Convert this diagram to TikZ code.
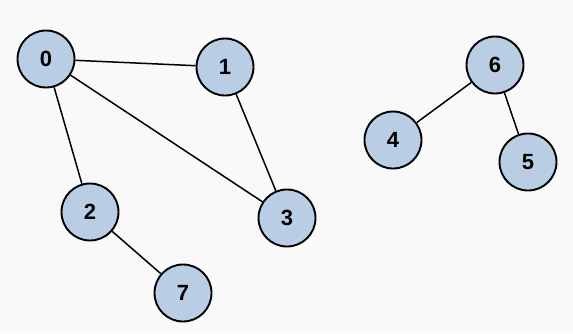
\documentclass[tikz,border=0pt]{standalone}
\usepackage{fontspec}
\setsansfont{Liberation Sans}
\usepackage{tikz}
\usetikzlibrary{positioning}
\definecolor{vertexFill}{HTML}{B9CDE5}
\definecolor{bgPaper}   {HTML}{F9F9F9}
\tikzset{
  vertex/.style={circle, draw=black, line width=1.9pt, fill=vertexFill,
                 minimum size=57pt, inner sep=0pt,
                 font=\sffamily\bfseries\fontsize{22}{24}\selectfont},
  edge/.style={line width=1.5pt},
}

\begin{document}
\begin{tikzpicture}[x=1pt, y=-1pt]
        \fill[bgPaper] (0,0) rectangle (573,333);
        \useasboundingbox (0,0) rectangle (573,333);
        % first component
        \node[vertex] (v0) at (46, 59) {0};
        \node[vertex] (v1) at (225, 67) {1};
        \node[vertex] (v2) at (90, 212) {2};
        \node[vertex] (v3) at (287, 218) {3};
        \node[vertex] (v7) at (183, 293) {7};
        % second component
        \node[vertex] (v6) at (495, 65) {6};
        \node[vertex] (v4) at (393, 140) {4};
        \node[vertex] (v5) at (528, 162) {5};
        \draw[edge] (v0) -- (v1);
        \draw[edge] (v0) -- (v2);
        \draw[edge] (v0) -- (v3);
        \draw[edge] (v1) -- (v3);
        \draw[edge] (v2) -- (v7);
        \draw[edge] (v6) -- (v4);
        \draw[edge] (v6) -- (v5);
      \end{tikzpicture}
\end{document}
